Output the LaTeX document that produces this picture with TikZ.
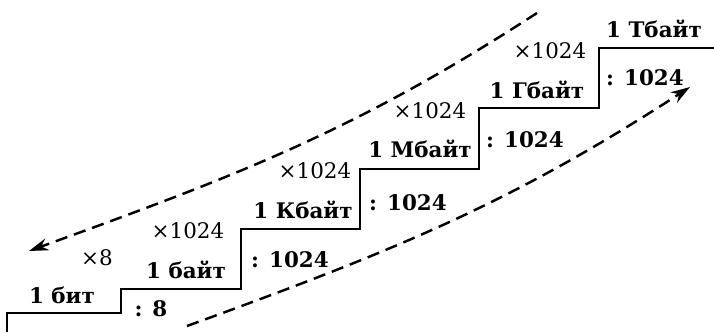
\documentclass[tikz,border=0pt]{standalone}
\usepackage{fontspec}
\setmainfont{DejaVu Serif}
\usetikzlibrary{arrows.meta}

\begin{document}
\begin{tikzpicture}[
    x=0.02cm, y=0.02cm,
    unit_style/.style={font=\fontsize{12.2}{14}\selectfont\bfseries, inner sep=0pt, anchor=base},
    mul_style/.style={font=\fontsize{12.2}{14}\selectfont, inner sep=0pt, anchor=base},
    div_style/.style={font=\fontsize{12.2}{14}\selectfont\bfseries, inner sep=0pt, anchor=base},
    stair_style/.style={line width=1.1pt, line join=miter},
    flow_style/.style={line width=1.4pt, dash pattern=on 7pt off 4pt, -{Stealth[length=11pt, width=7pt]}}
]
\useasboundingbox (0,0) rectangle (714,332);

% Staircase of units
\draw[stair_style] (7,0) |- (121,19) |- (241,43) |- (360,103) |- (479,163) |- (599,224) |- (714,284);

% Unit names on the steps
\node[unit_style] (bit) at (62,29) {1 бит};
\node[unit_style] (byte) at (186,54) {1 байт};
\node[unit_style] (kb) at (303,114) {1 Кбайт};
\node[unit_style] (mb) at (420,174) {1 Мбайт};
\node[unit_style] (gb) at (537,234) {1 Гбайт};
\node[unit_style] (tb) at (654,295) {1 Тбайт};

% Multiplication going down (above the steps)
\node[mul_style] (mul_byte) at (97,67) {×8};
\node[mul_style] (mul_kb) at (188,94) {×1024};
\node[mul_style] (mul_mb) at (315,154) {×1024};
\node[mul_style] (mul_gb) at (430,214) {×1024};
\node[mul_style] (mul_tb) at (550,274) {×1024};

% Division going up (below the steps)
\node[div_style] (div_bit) at (151,16) {: 8};
\node[div_style] (div_byte) at (290,65) {: 1024};
\node[div_style] (div_kb) at (408,122) {: 1024};
\node[div_style] (div_mb) at (525,185) {: 1024};
\node[div_style] (div_gb) at (645,247) {: 1024};

% Dashed arrows
\coordinate (down_start) at (537,319);
\coordinate (down_end) at (29,81);
\coordinate (up_start) at (187,6);
\coordinate (up_end) at (690,245);
\draw[flow_style] (down_start) to[out=213, in=20] (down_end);
\draw[flow_style] (up_start) to[out=20, in=213] (up_end);

\end{tikzpicture}
\end{document}
